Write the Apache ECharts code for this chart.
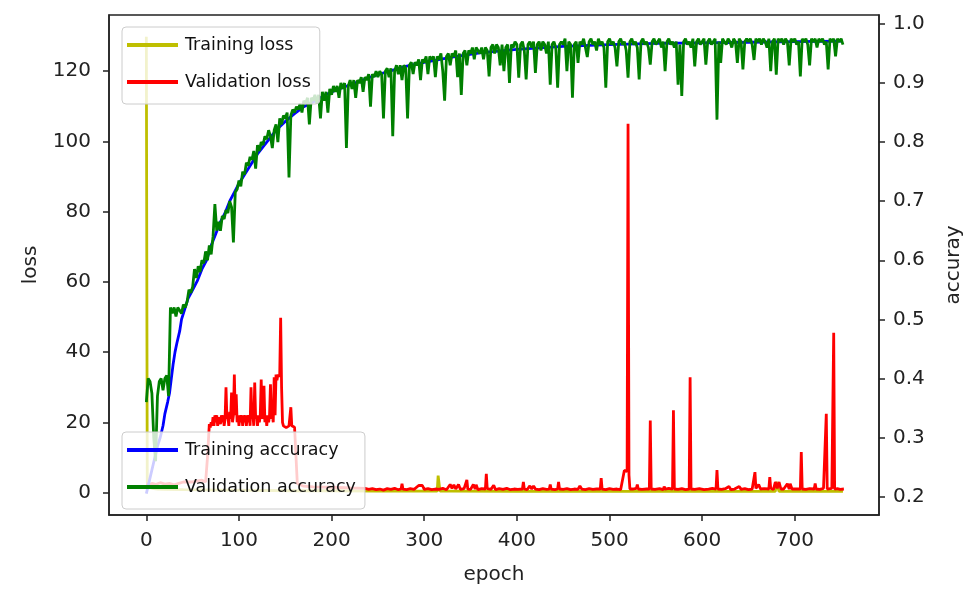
<!DOCTYPE html>
<html>
<head>
<meta charset="utf-8">
<script src="https://cdn.jsdelivr.net/npm/echarts@6/dist/echarts.min.js"></script>
<style>
  html, body { margin: 0; padding: 0; background: #fff; }
  #chart { width: 972px; height: 590px; }
</style>
</head>
<body>
<div id="chart"></div>
<script>
// tick labels
const epochTicks = [0, 100, 200, 300, 400, 500, 600, 700];
const lossTicks = [0, 20, 40, 60, 80, 100, 120];
const accTicks = [0.2, 0.3, 0.4, 0.5, 0.6, 0.7, 0.8, 0.9, 1.0];

// training loss, [epoch, loss]
const trainLoss = [[0, 129.8], [1, 3], [2, 2], [3, 1.6], [5, 1.3], [8, 1.1], [12, 1.0], [20, 0.9], [40, 0.8], [80, 0.7], [120, 0.6], [160, 0.5],
  [200, 0.5], [250, 0.4], [314, 0.4], [315, 4.8], [316, 5.0], [317, 0.4], [330, 0.4], [400, 0.35], [500, 0.3], [600, 0.3], [679, 0.3],
  [680, 3.0], [682, 3.0], [683, 0.3], [700, 0.3], [752, 0.3]];

// validation loss, [epoch, loss] (red)
const valLoss = [[0, 2.5], [3, 2.2], [6, 2.6], [10, 2.3], [15, 2.8], [20, 2.4], [25, 2.6], [30, 2.2], [35, 2.6], [40, 3.0], [50, 3.0], [60, 3.5],
  [64, 3], [66, 10], [68, 19.5], [69, 18.5], [70, 20], [71, 19], [72, 21.5], [73, 19], [74, 22], [75, 20], [76, 22], [77, 19], [78, 21.5], [79, 22],
  [80, 19.5], [81, 22], [82, 20], [83, 22], [84, 19], [85, 21], [86, 30], [87, 21], [88, 22], [89, 19], [90, 23], [91, 21], [92, 28.5], [93, 20],
  [94, 22], [95, 33.6], [96, 22], [97, 28], [98, 20], [99, 22], [100, 19], [101, 22], [102, 20], [103, 22], [104, 19], [105, 22], [106, 20],
  [107, 22], [108, 19], [109, 22], [110, 20], [111, 22], [112, 19], [113, 30], [114, 21], [115, 22], [116, 19], [117, 31.3], [118, 21], [119, 22],
  [120, 19], [121, 22], [122, 20], [123, 22], [124, 32.2], [125, 21], [126, 22], [127, 30.4], [128, 20], [129, 22], [130, 19], [131, 22], [132, 20],
  [133, 22], [134, 30.8], [135, 21], [136, 22], [137, 20], [138, 32.8], [139, 22], [140, 33.6], [141, 32], [142, 33.6], [143, 33], [144, 33.6],
  [145, 49.8], [146, 30], [147, 20], [148, 19], [149, 18.6], [150, 19], [151, 18.5], [152, 19], [153, 18.6], [154, 19], [155, 18.5], [156, 24.3],
  [157, 19], [158, 18.5], [159, 19], [160, 18.6], [161, 18.5], [163, 2.5], [170, 1.8], [180, 1.6], [200, 1.5], [220, 1.3], [236, 1.2],
  [240, 0.9], [244, 1.1], [248, 0.8], [252, 1.0], [256, 0.7], [260, 1.1], [264, 0.9], [268, 1.2], [272, 0.8], [275, 1.0], [276, 2.5], [277, 1.0],
  [281, 0.8], [285, 1.1], [289, 0.9], [294, 2.0], [296, 1.5], [298, 2.0], [300, 0.9], [304, 1.1], [308, 0.8], [312, 1.0], [316, 0.9], [320, 1.2],
  [324, 0.8], [328, 2.3], [330, 1.2], [332, 2.2], [334, 1.0], [337, 2.3], [339, 0.9], [343, 1.1], [345, 1.0], [346, 3.6], [347, 1.0], [350, 0.9],
  [353, 2.3], [355, 1.0], [356, 2.2], [358, 0.8], [362, 1.1], [366, 1.0], [367, 5.3], [368, 1.1], [372, 0.9], [375, 2.1], [377, 0.8], [381, 1.1],
  [385, 0.9], [389, 1.2], [393, 0.8], [397, 1.0], [401, 0.9], [406, 1.0], [407, 3.0], [408, 1.0], [411, 0.8], [414, 1.9], [416, 1.0], [418, 1.9],
  [420, 1.0], [424, 0.8], [428, 1.1], [432, 0.9], [435, 1.0], [436, 2.3], [437, 1.0], [441, 0.8], [444, 1.0], [445, 3.0], [446, 1.0], [450, 0.9],
  [454, 1.1], [458, 0.8], [462, 1.0], [466, 0.9], [468, 1.9], [470, 1.0], [474, 0.8], [478, 1.1], [482, 0.9], [486, 1.0], [490, 1.0], [491, 4.1],
  [492, 1.0], [496, 0.8], [500, 1.1], [504, 0.9], [508, 1.0], [512, 0.8], [514, 1.0], [516, 6.3], [519, 6.0], [520, 105], [521, 5.0], [522, 1.0],
  [525, 1.0], [529, 1.2], [530, 2.3], [531, 1.0], [535, 0.9], [540, 1.0], [543, 1.0], [544, 20.5], [545, 1.0], [549, 0.9], [554, 1.1], [558, 0.8],
  [559, 1.7], [560, 1.0], [564, 1.2], [568, 1.0], [569, 23.4], [570, 1.0], [574, 0.9], [578, 1.1], [582, 0.8], [586, 1.0], [587, 32.8], [588, 1.0],
  [592, 0.9], [597, 1.1], [602, 0.8], [607, 1.0], [611, 1.2], [615, 1.0], [616, 6.4], [617, 1.0], [621, 0.9], [625, 1.1], [629, 1.7], [631, 0.8],
  [635, 1.0], [640, 1.7], [642, 0.9], [646, 1.1], [650, 0.8], [654, 1.0], [656, 1.0], [657, 5.8], [658, 1.2], [661, 2.3], [663, 1.0], [667, 1.1],
  [672, 1.0], [673, 4.4], [674, 1.2], [677, 0.9], [679, 3.0], [681, 1.2], [683, 3.0], [685, 1.0], [688, 1.0], [692, 2.5], [694, 1.0], [695, 2.5],
  [697, 1.0], [701, 1.0], [706, 1.0], [707, 11.5], [708, 1.0], [712, 0.9], [716, 1.1], [721, 1.0], [722, 2.6], [723, 1.0], [727, 0.9], [731, 1.2],
  [733, 1.0], [734, 22.4], [735, 1.0], [737, 1.0], [740, 1.2], [741, 1.0], [742, 45.5], [743, 1.0], [746, 1.1], [749, 0.9], [753, 1.0]];

// training accuracy, [epoch, accuracy] (blue)
const trainAcc = [[0, 0.205], [3, 0.225], [6, 0.245], [9, 0.265], [12, 0.285], [15, 0.30], [18, 0.32], [20, 0.34], [23, 0.36], [25, 0.375],
  [27, 0.40], [29, 0.425], [31, 0.445], [33, 0.46], [36, 0.48], [38, 0.50], [42, 0.52], [45, 0.535], [50, 0.55], [55, 0.565], [60, 0.585],
  [65, 0.60], [70, 0.625], [75, 0.645], [80, 0.665], [85, 0.68], [90, 0.70], [95, 0.715], [100, 0.73], [110, 0.755], [120, 0.78], [130, 0.80],
  [140, 0.82], [150, 0.835], [160, 0.848], [170, 0.86], [180, 0.868], [190, 0.877], [200, 0.885], [220, 0.897], [240, 0.909], [260, 0.919],
  [280, 0.928], [300, 0.935], [330, 0.944], [360, 0.951], [400, 0.957], [450, 0.962], [500, 0.965], [550, 0.967], [600, 0.968], [650, 0.969],
  [700, 0.970], [752, 0.971]];

// validation accuracy (green), one value every 2 epochs starting at epoch 0
const valAccStep = 2;
const valAcc = [
  /* 0   */ 0.36, 0.40, 0.395, 0.375, 0.30, 0.26, 0.37, 0.395, 0.40, 0.38, 0.40, 0.405, 0.37, 0.52, 0.51, 0.52, 0.505, 0.52, 0.515, 0.51, 0.525, 0.52, 0.53, 0.55, 0.545,
  /* 50  */ 0.555, 0.585, 0.57, 0.59, 0.58, 0.60, 0.595, 0.615, 0.60, 0.625, 0.61, 0.64, 0.695, 0.65, 0.665, 0.65, 0.675, 0.67, 0.685, 0.68, 0.70, 0.69, 0.63, 0.715, 0.72,
  /* 100 */ 0.735, 0.725, 0.75, 0.745, 0.765, 0.76, 0.775, 0.77, 0.785, 0.755, 0.795, 0.785, 0.80, 0.795, 0.81, 0.805, 0.82, 0.81, 0.79, 0.82, 0.83, 0.80, 0.84, 0.83, 0.845,
  /* 150 */ 0.84, 0.85, 0.74, 0.845, 0.855, 0.85, 0.86, 0.855, 0.865, 0.85, 0.87, 0.865, 0.875, 0.83, 0.875, 0.87, 0.88, 0.865, 0.88, 0.84, 0.885, 0.87, 0.885, 0.85, 0.89,
  /* 200 */ 0.88, 0.895, 0.885, 0.895, 0.875, 0.90, 0.89, 0.90, 0.79, 0.895, 0.905, 0.89, 0.905, 0.875, 0.905, 0.90, 0.91, 0.885, 0.91, 0.905, 0.915, 0.86, 0.915, 0.91, 0.92,
  /* 250 */ 0.91, 0.92, 0.915, 0.84, 0.92, 0.925, 0.91, 0.925, 0.81, 0.92, 0.93, 0.915, 0.93, 0.905, 0.93, 0.925, 0.84, 0.93, 0.935, 0.915, 0.935, 0.93, 0.94, 0.905, 0.94,
  /* 300 */ 0.935, 0.945, 0.915, 0.945, 0.94, 0.945, 0.91, 0.945, 0.94, 0.95, 0.92, 0.87, 0.945, 0.95, 0.93, 0.95, 0.945, 0.955, 0.91, 0.95, 0.88, 0.95, 0.955, 0.93, 0.955,
  /* 350 */ 0.95, 0.96, 0.94, 0.96, 0.955, 0.95, 0.96, 0.94, 0.96, 0.955, 0.911, 0.96, 0.965, 0.95, 0.965, 0.96, 0.93, 0.965, 0.92, 0.96, 0.965, 0.90, 0.965, 0.96, 0.97,
  /* 400 */ 0.965, 0.909, 0.965, 0.97, 0.955, 0.906, 0.965, 0.97, 0.96, 0.97, 0.917, 0.965, 0.97, 0.955, 0.97, 0.965, 0.95, 0.97, 0.897, 0.965, 0.97, 0.96, 0.892, 0.965, 0.97,
  /* 450 */ 0.965, 0.975, 0.92, 0.97, 0.965, 0.875, 0.965, 0.97, 0.934, 0.97, 0.965, 0.975, 0.96, 0.944, 0.97, 0.975, 0.965, 0.97, 0.955, 0.975, 0.965, 0.97, 0.96, 0.892, 0.97,
  /* 500 */ 0.975, 0.965, 0.97, 0.96, 0.928, 0.97, 0.975, 0.965, 0.97, 0.955, 0.909, 0.97, 0.975, 0.965, 0.97, 0.96, 0.906, 0.97, 0.975, 0.965, 0.97, 0.96, 0.931, 0.97, 0.975,
  /* 550 */ 0.965, 0.97, 0.975, 0.96, 0.97, 0.92, 0.97, 0.975, 0.965, 0.97, 0.96, 0.97, 0.897, 0.965, 0.878, 0.97, 0.975, 0.965, 0.97, 0.96, 0.975, 0.928, 0.97, 0.975, 0.965,
  /* 600 */ 0.97, 0.975, 0.931, 0.97, 0.975, 0.965, 0.97, 0.975, 0.838, 0.97, 0.934, 0.975, 0.97, 0.965, 0.975, 0.97, 0.96, 0.975, 0.97, 0.934, 0.975, 0.97, 0.923, 0.97, 0.975,
  /* 650 */ 0.97, 0.975, 0.965, 0.939, 0.975, 0.97, 0.975, 0.965, 0.975, 0.97, 0.96, 0.975, 0.92, 0.97, 0.975, 0.914, 0.975, 0.97, 0.975, 0.965, 0.975, 0.97, 0.93, 0.975, 0.97,
  /* 700 */ 0.975, 0.965, 0.97, 0.911, 0.975, 0.97, 0.975, 0.965, 0.93, 0.975, 0.97, 0.975, 0.96, 0.975, 0.97, 0.975, 0.965, 0.97, 0.923, 0.975, 0.97, 0.975, 0.945, 0.975, 0.97, 0.975, 0.965
];

const chart = echarts.init(document.getElementById('chart'));

const axisColor = '#222222';
const font = 'DejaVu Sans';

const lineSeries = (name, color, yIndex, data) => ({
  name: name,
  type: 'line',
  yAxisIndex: yIndex,
  data: data,
  showSymbol: false,
  symbol: 'none',
  lineStyle: { color: color, width: 2.8 },
  itemStyle: { color: color },
  emphasis: { disabled: true },
  animation: false
});

const legendBase = {
  orient: 'vertical',
  icon: 'rect',
  itemWidth: 51,
  itemHeight: 4,
  itemGap: 19,
  padding: [9, 9, 13, 5],
  backgroundColor: 'rgba(255,255,255,0.8)',
  borderColor: '#cccccc',
  borderWidth: 1,
  borderRadius: 4,
  textStyle: { fontFamily: font, fontSize: 17.5, color: '#111', padding: [0, 0, 0, 2] }
};

const axisBase = (ticks) => ({
  axisLine: { show: true, onZero: false, lineStyle: { color: axisColor, width: 1.5 } },
  axisTick: { show: true, length: 6, customValues: ticks, lineStyle: { color: axisColor, width: 1.5 } },
  splitLine: { show: false },
  nameTextStyle: { fontFamily: font, fontSize: 20, color: axisColor }
});

const option = {
  animation: false,
  grid: {
    left: 109, right: 90, top: 15, bottom: 72,
    show: true, borderColor: axisColor, borderWidth: 1.5, backgroundColor: 'transparent'
  },
  legend: [
    Object.assign({}, legendBase, { left: 122, top: 27, data: ['Training loss', 'Validation loss'] }),
    Object.assign({}, legendBase, { left: 122, top: 432, data: ['Training accuracy', 'Validation accuracy'] })
  ],
  xAxis: Object.assign(axisBase(epochTicks), {
    type: 'value',
    min: -40.3, max: 790.9,
    name: 'epoch', nameLocation: 'middle', nameGap: 50,
    axisLabel: { customValues: epochTicks, margin: 16, fontFamily: font, fontSize: 20, color: axisColor }
  }),
  yAxis: [
    Object.assign(axisBase(lossTicks), {
      type: 'value',
      position: 'left',
      min: -6.4, max: 136,
      name: 'loss', nameLocation: 'middle', nameGap: 68, nameRotate: 90,
      axisLabel: { customValues: lossTicks, margin: 18, fontFamily: font, fontSize: 20, color: axisColor }
    }),
    Object.assign(axisBase(accTicks), {
      type: 'value',
      position: 'right',
      min: 0.1689, max: 1.0151,
      name: 'accuray', nameLocation: 'middle', nameGap: 65, nameRotate: 90,
      axisLabel: { customValues: accTicks, margin: 14, fontFamily: font, fontSize: 20, color: axisColor,
        formatter: v => v.toFixed(1) }
    })
  ],
  series: [
    lineSeries('Training loss', '#bfbf00', 0, trainLoss),
    lineSeries('Validation loss', '#ff0000', 0, valLoss),
    lineSeries('Training accuracy', '#0000ff', 1, trainAcc),
    lineSeries('Validation accuracy', '#008000', 1, valAcc.map((v, i) => [i * valAccStep, v]))
  ]
};

chart.setOption(option);
</script>
</body>
</html>
